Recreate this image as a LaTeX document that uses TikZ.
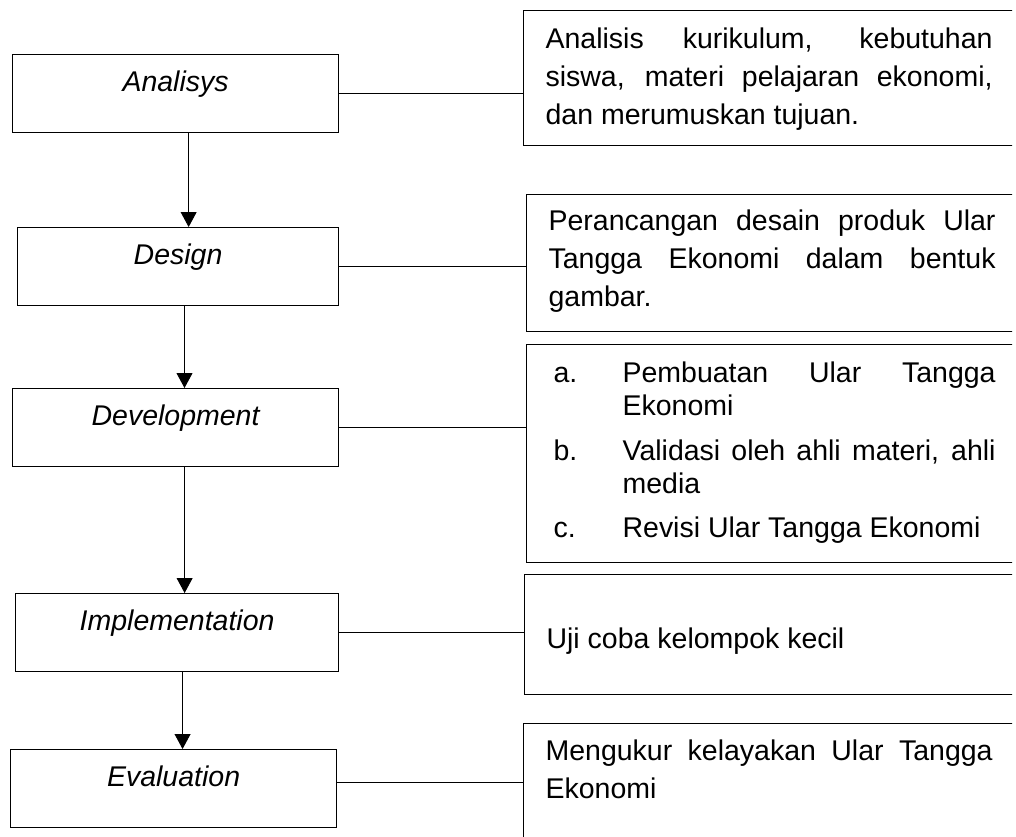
\documentclass[tikz,border=0pt]{standalone}
\usepackage{fontspec}
\setmainfont{Liberation Sans}
\usetikzlibrary{arrows.meta}

\newlength\pxu
\setlength\pxu{0.0148cm}
\hyphenpenalty=10000
\exhyphenpenalty=10000
\newcommand{\listline}[2]{\hangindent=69\pxu\hangafter=1\makebox[69\pxu][l]{#1}#2\par}

\begin{document}
\begin{tikzpicture}[
        x=0.0148cm, y=-0.0148cm,
        stage/.style={rectangle, draw=black, line width=0.5pt, anchor=north west,
                      inner ysep=0pt, text height=37\pxu, text depth=41\pxu,
                      minimum width=326\pxu, font=\fontsize{12}{14}\selectfont\itshape},
        desc/.style={rectangle, draw=black, line width=0.5pt, anchor=north west,
                     text width=447\pxu, inner xsep=22\pxu, inner ysep=0pt,
                     align=justify, font=\fontsize{12}{16}\selectfont},
        link/.style={line width=0.4pt},
        arrow/.style={-{Triangle[length=6.3pt, width=6.7pt]}, line width=0.4pt},
    ]
    \useasboundingbox (0,0) rectangle (1016,836);
    \clip (0,0) rectangle (1012,836);

    % tahapan ADDIE (kiri)
    \node[stage] (ana) at (12,54) {Analisys};
    \node[stage, minimum width=321\pxu] (des) at (17,227) {Design};
    \node[stage] (dev) at (12,388) {Development};
    \node[stage, minimum width=323\pxu] (imp) at (15,593) {Implementation};
    \node[stage] (eva) at (10,749) {Evaluation};

    % keterangan (kanan)
    \node[desc, text height=38\pxu, text depth=97\pxu] (d1) at (523,10)
        {Analisis kurikulum, kebutuhan siswa, materi pelajaran ekonomi, dan merumuskan tujuan.};
    \node[desc, text height=36\pxu, text depth=101\pxu] (d2) at (526,194)
        {Perancangan desain produk Ular Tangga Ekonomi dalam bentuk gambar.};
    \node[desc, text height=38\pxu, text depth=180\pxu] (d3) at (526,344)
        {\fontsize{12}{14}\selectfont\leftskip=5\pxu%
         \listline{a.}{Pembuatan Ular Tangga Ekonomi}\vspace{4.6pt}
         \listline{b.}{Validasi oleh ahli materi, ahli media}\vspace{4.6pt}
         \listline{c.}{Revisi Ular Tangga Ekonomi}};
    \node[desc, text height=74\pxu, text depth=46\pxu] (d4) at (524,574)
        {Uji coba kelompok kecil};
    \node[desc, text height=37\pxu, text depth=140\pxu] (d5) at (523,723)
        {Mengukur kelayakan Ular Tangga Ekonomi};

    % alur antar tahap
    \draw[arrow] ([xshift=5.5pt]ana.south) -- ([xshift=5.5pt]ana.south |- des.north);
    \draw[arrow] ([xshift=2.7pt]des.south) -- ([xshift=2.7pt]des.south |- dev.north);
    \draw[arrow] ([xshift=3.8pt]dev.south) -- ([xshift=3.8pt]dev.south |- imp.north);
    \draw[arrow] ([xshift=2.3pt]imp.south) -- ([xshift=2.3pt]imp.south |- eva.north);

    % garis ke keterangan
    \draw[link] (ana.east) -- (ana.east -| d1.west);
    \draw[link] (des.east) -- (des.east -| d2.west);
    \draw[link] (dev.east) -- (dev.east -| d3.west);
    \draw[link] (imp.east) -- (imp.east -| d4.west);
    \draw[link] ([yshift=2.5pt]eva.east) -- ([yshift=2.5pt]eva.east -| d5.west);
\end{tikzpicture}
\end{document}
